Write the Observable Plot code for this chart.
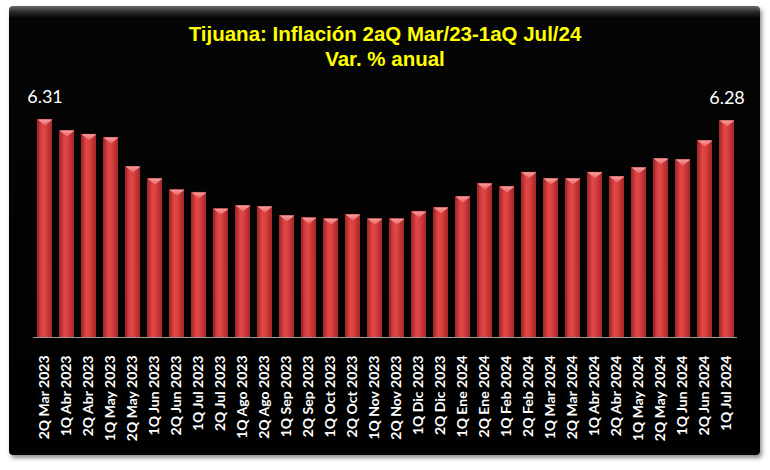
<!DOCTYPE html>
<html>
<head>
<meta charset="utf-8">
<script src="https://cdn.jsdelivr.net/npm/d3@7"></script>
<script src="https://cdn.jsdelivr.net/npm/@observablehq/plot@0.6"></script>
<style>
  html, body { margin: 0; padding: 0; background: #ffffff; }
  #wrap { position: relative; width: 770px; height: 470px; overflow: hidden; background: #fff; }
  #panel {
    position: absolute; left: 9px; top: 6px; width: 751px; height: 449px;
    background: linear-gradient(to bottom, #6a6a6a 0px, #2a2a2a 6px, #050505 12px, #000 100%);
    border-radius: 4px;
    box-shadow: 2px 3px 4px rgba(0,0,0,0.45);
  }
  #title {
    position: absolute; left: 0; top: 21px; width: 770px; text-align: center;
    font-family: "Liberation Sans", Arial, sans-serif; font-weight: bold;
    font-size: 20.5px; line-height: 25px; color: #ffff00;
  }
  #chart { position: absolute; left: 0; top: 80px; }
</style>
</head>
<body>
<div id="wrap">
  <div id="panel"></div>
  <div id="title">Tijuana: Inflación 2aQ Mar/23-1aQ Jul/24<br>Var. % anual</div>
  <div id="chart"></div>
</div>
<script>
const categories = [
  "2Q Mar 2023", "1Q Abr 2023", "2Q Abr 2023", "1Q May 2023", "2Q May 2023",
  "1Q Jun 2023", "2Q Jun 2023", "1Q Jul 2023", "2Q Jul 2023", "1Q Ago 2023",
  "2Q Ago 2023", "1Q Sep 2023", "2Q Sep 2023", "1Q Oct 2023", "2Q Oct 2023",
  "1Q Nov 2023", "2Q Nov 2023", "1Q Dic 2023", "2Q Dic 2023", "1Q Ene 2024",
  "2Q Ene 2024", "1Q Feb 2024", "2Q Feb 2024", "1Q Mar 2024", "2Q Mar 2024",
  "1Q Abr 2024", "2Q Abr 2024", "1Q May 2024", "2Q May 2024", "1Q Jun 2024",
  "2Q Jun 2024", "1Q Jul 2024"
];
const values = [
  6.31, 5.99, 5.88, 5.79, 4.95,
  4.60, 4.28, 4.20, 3.73, 3.82,
  3.79, 3.53, 3.47, 3.44, 3.56,
  3.44, 3.44, 3.65, 3.76, 4.08,
  4.46, 4.37, 4.78, 4.60, 4.60,
  4.78, 4.66, 4.92, 5.18, 5.15,
  5.70, 6.28
];
const labelled = [0, values.length - 1];

const data = categories.map((c, i) => ({cat: c, value: values[i], i}));
const labelData = data.filter(d => labelled.includes(d.i));

const bevel = {
  draw(ctx) {
    const w = 7.5, h = 6;
    ctx.moveTo(-w, 0);
    ctx.lineTo(w, 0);
    ctx.lineTo(0, h);
    ctx.closePath();
  }
};

const chart = Plot.plot({
  width: 770,
  height: 390,
  marginLeft: 33,
  marginRight: 33,
  marginTop: 10,
  marginBottom: 133,
  style: {background: "transparent", color: "#fff", overflow: "visible"},
  x: {domain: categories, paddingInner: 0.32, paddingOuter: 0.16, align: 0.5, label: null,
      tickSize: 0, tickPadding: 18, tickRotate: -90},
  y: {domain: [0, 7.15], axis: null},
  marks: [
    Plot.barY(data, {x: "cat", y: "value", fill: "url(#barGrad)"}),
    Plot.dot(data, {x: "cat", y: "value", symbol: bevel, r: 5, fill: "url(#bevelGrad)", stroke: "none"}),
    Plot.ruleY([0], {stroke: "#9a9a9a", strokeWidth: 1.2}),
    Plot.text(labelData, {x: "cat", y: "value", text: d => d.value.toFixed(2), dy: -22,
      fill: "#ffffff", fontSize: 18, fontFamily: "Lato, sans-serif"})
  ]
});

const svg = d3.select(chart);
const defs = svg.insert("defs", ":first-child");
const g1 = defs.append("linearGradient").attr("id", "barGrad")
  .attr("x1", "0").attr("x2", "1").attr("y1", "0").attr("y2", "0");
[["0%", "#9e2222"], ["35%", "#e04646"], ["55%", "#dc4242"], ["100%", "#a82626"]]
  .forEach(([o, c]) => g1.append("stop").attr("offset", o).attr("stop-color", c));
const g2 = defs.append("linearGradient").attr("id", "bevelGrad")
  .attr("x1", "0").attr("x2", "0").attr("y1", "0").attr("y2", "1");
[["0%", "#f7a0a0"], ["100%", "#e86060"]]
  .forEach(([o, c]) => g2.append("stop").attr("offset", o).attr("stop-color", c));

svg.selectAll("g[aria-label='x-axis tick label'] text, g[aria-label='x-axis tick label']")
  .attr("font-family", "Lato, sans-serif").attr("font-weight", "bold").attr("font-size", 14)
  .attr("fill", "#ffffff");

document.getElementById("chart").appendChild(chart);
</script>
</body>
</html>
